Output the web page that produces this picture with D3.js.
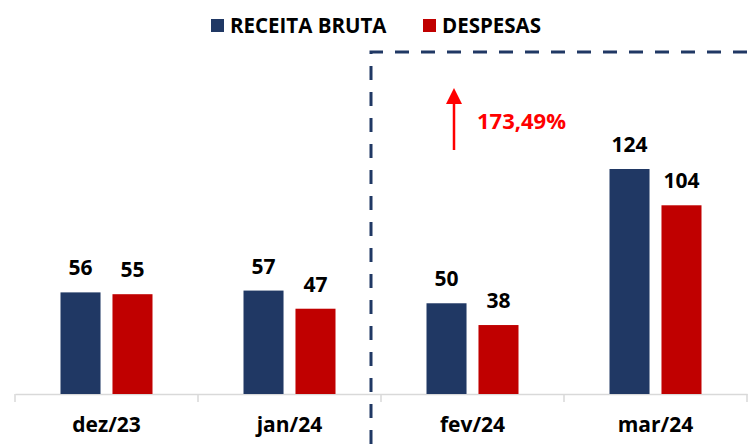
<!DOCTYPE html>
<html lang="pt">
<head>
<meta charset="UTF-8">
<title>Receita x Despesas</title>
<script src="https://d3js.org/d3.v7.min.js"></script>
<style>
    body { margin: 0; background: #fff; }
    text { font-family: "Open Sans", "Noto Sans", sans-serif; font-weight: bold; }
</style>
</head>
<body>
<svg id="chart" width="749" height="444"></svg>
<script>
    // chart data
    var months = ["dez/23", "jan/24", "fev/24", "mar/24"];
    var receita = [56, 57, 50, 124];
    var despesas = [55, 47, 38, 104];
    var seriesNames = ["RECEITA BRUTA", "DESPESAS"];
    var growthLabel = "173,49%";

    var colors = ["#203864", "#C00000"];

    var svg = d3.select("#chart"),
        width = 749, height = 444;
    var baseY = 394;

    var x = d3.scaleBand().domain(months).range([15, 747]);
    var sub = d3.scaleBand().domain([0, 1]).range([0, 92]).paddingInner(0.23);
    var y = d3.scaleLinear().domain([0, 124]).range([baseY, 169]);

    var data = months.map(function (m, i) {
        return {month: m, values: [receita[i], despesas[i]]};
    });

    // axis
    var axis = svg.append("g")
        .attr("transform", "translate(0," + baseY + ")")
        .call(d3.axisBottom(x).tickSize(0).tickPadding(23));
    axis.select(".domain").attr("stroke", "#d9d9d9").attr("stroke-width", 1.5);
    axis.selectAll("text")
        .attr("font-size", 21).attr("fill", "#000")
        .attr("font-family", "'Open Sans', sans-serif").attr("font-weight", "bold");
    var tickPos = months.map(function (m) { return x(m); }).concat([x.range()[1]]);
    svg.append("g").selectAll("line")
        .data(tickPos).enter().append("line")
        .attr("x1", function (d) { return d; }).attr("x2", function (d) { return d; })
        .attr("y1", baseY).attr("y2", baseY + 8)
        .attr("stroke", "#d9d9d9").attr("stroke-width", 1.5);

    // bars
    var groups = svg.append("g").selectAll("g")
        .data(data).enter().append("g")
        .attr("transform", function (d) {
            return "translate(" + (x(d.month) + (x.bandwidth() - 92) / 2) + ",0)";
        });

    groups.selectAll("rect")
        .data(function (d) { return d.values; })
        .enter().append("rect")
        .attr("x", function (d, i) { return sub(i); })
        .attr("width", sub.bandwidth())
        .attr("y", function (d) { return y(d); })
        .attr("height", function (d) { return baseY - y(d); })
        .attr("fill", function (d, i) { return colors[i]; });

    groups.selectAll("text")
        .data(function (d) { return d.values; })
        .enter().append("text")
        .attr("x", function (d, i) { return sub(i) + sub.bandwidth() / 2; })
        .attr("y", function (d) { return y(d) - 17; })
        .attr("text-anchor", "middle")
        .attr("font-size", 21)
        .attr("fill", "#000")
        .text(function (d) { return d; });

    // legend
    var legendX = [211, 423];
    var legend = svg.append("g").selectAll("g")
        .data(seriesNames).enter().append("g")
        .attr("transform", function (d, i) { return "translate(" + legendX[i] + ",19)"; });
    legend.append("rect")
        .attr("width", 13).attr("height", 13)
        .attr("fill", function (d, i) { return colors[i]; });
    legend.append("text")
        .attr("x", 19).attr("y", 14)
        .attr("font-size", 20.5)
        .attr("fill", "#000")
        .text(function (d) { return d; });

    // dashed highlight box
    var dashX = (x("jan/24") + x("fev/24") + x.bandwidth()) / 2 - 10;
    svg.append("path")
        .attr("d", "M" + dashX + "," + height + "V52H" + width)
        .attr("fill", "none")
        .attr("stroke", "#203864")
        .attr("stroke-width", 3)
        .attr("stroke-dasharray", "14,12");

    // growth arrow
    svg.append("line")
        .attr("x1", 454).attr("x2", 454)
        .attr("y1", 150).attr("y2", 102)
        .attr("stroke", "#FF0000").attr("stroke-width", 2.5);
    svg.append("path")
        .attr("d", "M446,104L454,88L462,104Z")
        .attr("fill", "#FF0000");
    svg.append("text")
        .attr("x", 477).attr("y", 129)
        .attr("font-size", 22)
        .attr("fill", "#FF0000")
        .text(growthLabel);
</script>
</body>
</html>
